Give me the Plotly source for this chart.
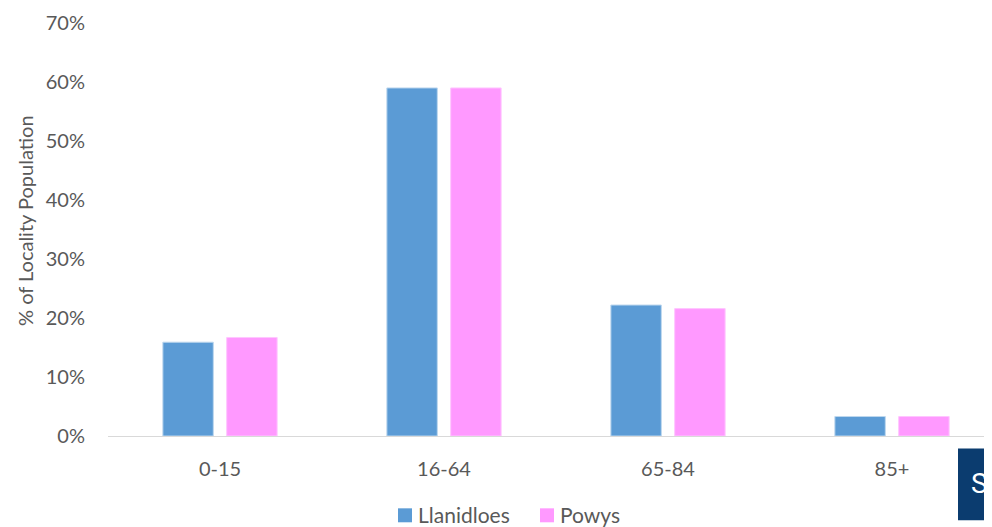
import plotly.graph_objects as go

categories = ["0-15", "16-64", "65-84", "85+"]
llanidloes = [0.159, 0.590, 0.222, 0.033]
powys = [0.167, 0.590, 0.216, 0.033]
y_ticks = [0, 0.1, 0.2, 0.3, 0.4, 0.5, 0.6, 0.7]
y_tick_labels = ["0%", "10%", "20%", "30%", "40%", "50%", "60%", "70%"]
series_names = ["Llanidloes", "Powys"]
series_colors = ["#5b9bd5", "#ff99ff"]
series_edges = ["#bdd7ee", "#ffc6ff"]

FONT = "Lato, 'Open Sans', sans-serif"
GREY = "#595959"

fig = go.Figure()
for name, vals, col, edge in zip(series_names, [llanidloes, powys], series_colors, series_edges):
    fig.add_trace(go.Bar(name=name, x=categories, y=vals,
                         marker=dict(color=col, line=dict(color=edge, width=1))))

# page body adds ~8px offset; compensate
OFF = 8
W, H = 992 - OFF, 527 - OFF
PX0, PY0, PY1 = 108, 22.5, 436.5   # page coords of plot left, top, bottom
L, R = PX0 - OFF, 0
T = PY0 - OFF
B = H - T - (PY1 - PY0)
plot_w = W - L - R
plot_h = PY1 - PY0
cat_w = 224

def px(xpage):
    return (xpage - PX0) / plot_w

def py(ypage):
    return (PY1 - ypage) / plot_h

fig.update_layout(
    width=W, height=H,
    margin=dict(l=L, r=R, t=T, b=B, autoexpand=False),
    paper_bgcolor="white", plot_bgcolor="white",
    barmode="group", bargap=0.43, bargroupgap=0.21,
    font=dict(family=FONT, size=16, color=GREY),
    showlegend=False,
    xaxis=dict(range=[-0.5, -0.5 + plot_w / cat_w], showgrid=False,
               showline=True, linecolor="#d9d9d9", linewidth=1,
               ticks="", ticklabelstandoff=15, tickfont=dict(size=20, color=GREY),
               fixedrange=True),
    yaxis=dict(range=[0, 0.7001], tickvals=y_ticks, ticktext=y_tick_labels,
               showgrid=False, showline=False, zeroline=False, ticks="",
               ticklabelstandoff=22, tickfont=dict(size=20, color=GREY),
               ticklabeloverflow="allow", fixedrange=True),
)

fig.add_annotation(text="% of Locality Population", textangle=-90,
                   xref="paper", yref="paper", x=px(25), y=py(221),
                   showarrow=False, font=dict(size=20, color=GREY),
                   xanchor="center", yanchor="middle")

# legend drawn manually (swatch + label)
legend_swatch_x = [398, 540]
for name, col, sx in zip(series_names, series_colors, legend_swatch_x):
    fig.add_shape(type="rect", xref="paper", yref="paper",
                  x0=px(sx), x1=px(sx + 14), y0=py(523), y1=py(509),
                  fillcolor=col, line=dict(width=0))
    fig.add_annotation(text=name, xref="paper", yref="paper",
                       x=px(sx + 18), y=py(515), showarrow=False,
                       font=dict(size=21, color=GREY),
                       xanchor="left", yanchor="middle")

# navy badge at bottom-right corner
fig.add_shape(type="rect", xref="paper", yref="paper",
              x0=px(958), x1=1.0, y0=py(521), y1=py(449),
              fillcolor="#0b3c6f", line=dict(width=0), layer="above")
fig.add_annotation(text="S", xref="paper", yref="paper",
                   x=px(969), y=py(484), showarrow=False,
                   font=dict(size=28, color="white", family="Roboto, sans-serif"),
                   xanchor="left", yanchor="middle")

fig.write_html("out.html")
